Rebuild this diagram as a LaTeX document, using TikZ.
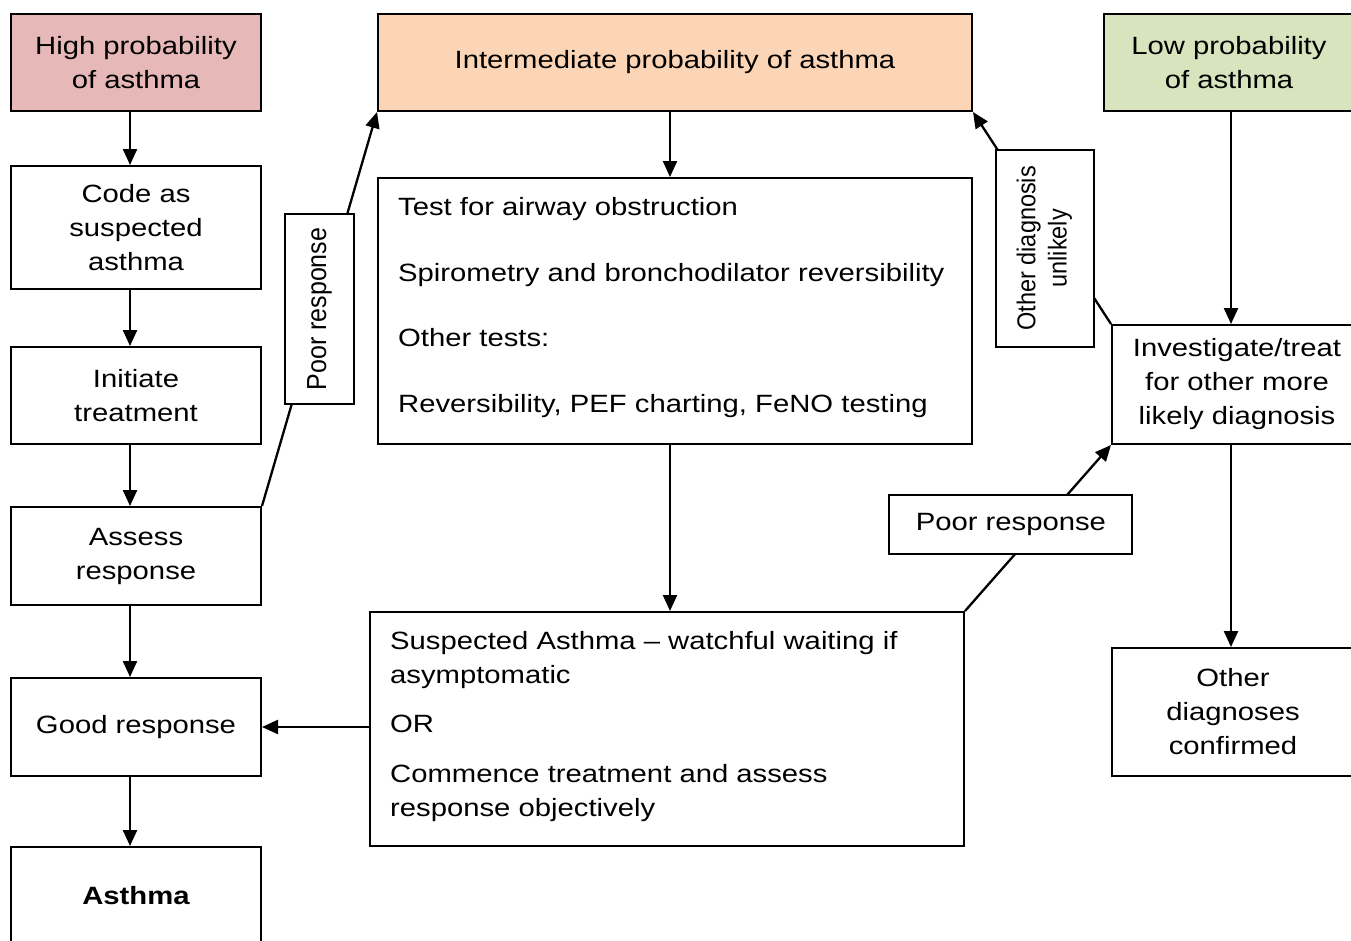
\documentclass[tikz,border=0pt]{standalone}
\usepackage{graphicx}
\usepackage{fontspec}
\setmainfont{Liberation Sans}[FakeStretch=1.17]
\newfontfamily\rotfont{Liberation Sans}
\usetikzlibrary{arrows.meta}
\definecolor{hipink}{HTML}{E6B9B8}
\definecolor{midorange}{HTML}{FBD5B5}
\definecolor{logreen}{HTML}{D7E4BD}
\tikzset{
  box/.style={draw, line width=2pt, fill=white, minimum width=250pt, align=center, inner sep=2pt, font=\fontsize{25}{34}\selectfont},
  lblbox/.style={draw, line width=2pt, fill=white, inner sep=0pt, align=center, font=\fontsize{25}{34}\selectfont},
  txt/.style={inner sep=0pt, align=left, anchor=north west, font=\fontsize{25}{34}\selectfont},
  arr/.style={line width=2.3pt, -{Triangle[length=16pt,width=14pt]}},
}
\begin{document}
\begin{tikzpicture}[x=1pt,y=-1pt]
\useasboundingbox (0,0) rectangle (1351,940);
\fill[white] (0,0) rectangle (1351,940);
\clip (0,0) rectangle (1351,940);

% top row
\node[box, fill=hipink, minimum height=97pt] (high) at (136,62.5) {High probability\\of asthma};
\node[box, fill=midorange, minimum width=594pt, minimum height=97pt] (inter) at (675,62.5) {Intermediate probability of asthma};
\node[box, fill=logreen, minimum height=97pt] (low) at (1229,62.5) {Low probability\\of asthma};

% left column
\node[box, minimum height=123pt] (code) at (136,227.5) {Code as\\suspected\\asthma};
\node[box, minimum height=97pt] (init) at (136,395.5) {Initiate\\treatment};
\node[box, minimum height=98pt] (assess) at (136,556) {Assess\\response};
\node[box, minimum height=98pt] (good) at (136,727) {Good response};
\node[box, minimum height=98pt] (asthma) at (136,896) {\bfseries Asthma};

% middle column
\node[box, minimum width=594pt, minimum height=266pt] (test) at (675,311) {};
\node[txt] (testtxt) at ([xshift=21pt,yshift=-20.5pt]test.north west) {Test for airway obstruction\\[31.5pt]Spirometry and bronchodilator reversibility\\[31.5pt]Other tests:\\[31.5pt]Reversibility, PEF charting, FeNO testing};
\node[box, minimum width=594pt, minimum height=234pt] (susp) at (667,729) {};
\node[txt] (susptxt) at ([xshift=21pt,yshift=-20pt]susp.north west) {Suspected Asthma – watchful waiting if\\asymptomatic\\[15.5pt]OR\\[15.5pt]Commence treatment and assess\\response objectively};

% right column
\node[box, minimum height=119pt] (invest) at (1237,384.5) {Investigate/treat\\for other more\\likely diagnosis};
\node[box, minimum width=242pt, minimum height=128pt] (otherconf) at (1233,712) {Other\\diagnoses\\confirmed};

% helper x positions
\coordinate (cl) at (130,0);
\coordinate (cm) at (670,0);
\coordinate (cr) at (1231,0);

% vertical arrows
\draw[arr] (high.south -| cl) -- (code.north -| cl);
\draw[arr] (code.south -| cl) -- (init.north -| cl);
\draw[arr] (init.south -| cl) -- (assess.north -| cl);
\draw[arr] (assess.south -| cl) -- (good.north -| cl);
\draw[arr] (good.south -| cl) -- (asthma.north -| cl);
\draw[arr] (inter.south -| cm) -- (test.north -| cm);
\draw[arr] (test.south -| cm) -- (susp.north -| cm);
\draw[arr] (low.south -| cr) -- (invest.north -| cr);
\draw[arr] (invest.south -| cr) -- (otherconf.north -| cr);
\draw[arr] (susp.west |- good.east) -- (good.east);

% diagonal connectors with labels
\draw[arr] (assess.north east) -- node[lblbox, minimum width=69pt, minimum height=190pt] (poorL)
  {\rotatebox{90}{\scalebox{1}[1.1]{\rotfont\fontsize{25}{34}\selectfont Poor response}}} (inter.south west);
\draw[arr] (susp.north east) -- node[lblbox, pos=0.52, xshift=-30pt, minimum width=243pt, minimum height=59pt] (poorR)
  {Poor response} (invest.south west);
\draw[arr] (invest.north west) -- node[lblbox, pos=0.357, xshift=-17pt, minimum width=98pt, minimum height=197pt] (unl)
  {\rotatebox{90}{\scalebox{1}[1.1]{\rotfont\fontsize{23.5}{28.5}\selectfont\begin{tabular}{@{}c@{}}Other diagnosis\\unlikely\end{tabular}}}} (inter.south east);
\end{tikzpicture}
\end{document}
